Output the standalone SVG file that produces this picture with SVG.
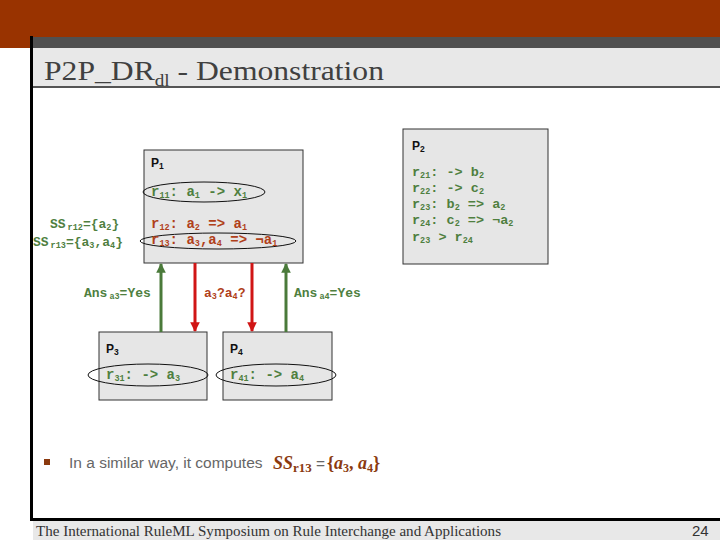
<svg xmlns="http://www.w3.org/2000/svg" width="720" height="540" viewBox="0 0 720 540">
<style>
.box{fill:#e6e6e6;stroke:#333;stroke-width:1}
.pl{font-family:"Liberation Sans",Arial,sans-serif;font-weight:bold;font-size:12px;fill:#111}
.mono{font-family:"Liberation Mono","Courier New",monospace;font-weight:bold;font-size:14px}
.p2{font-size:13.5px}
.lab{font-family:"Liberation Mono","Courier New",monospace;font-weight:bold;font-size:13px}
.g{fill:#4f7f3f}
.r{fill:#b0401a}
.sub{font-size:8.5px}
.ell{fill:none;stroke:#111;stroke-width:1}
.ga{stroke:#4a7a3a;stroke-width:3}
.ra{stroke:#d01515;stroke-width:3}
.bs{font-family:"Liberation Serif","Times New Roman",serif;font-weight:bold;fill:#8b3a0f}
</style>
<defs>
<marker id="ahg" viewBox="0 0 10 10" refX="9" refY="5" markerWidth="3.2" markerHeight="3.2" orient="auto"><path d="M0,0L10,5L0,10z" fill="#4a7a3a"/></marker>
<marker id="ahr" viewBox="0 0 10 10" refX="9" refY="5" markerWidth="3.2" markerHeight="3.2" orient="auto"><path d="M0,0L10,5L0,10z" fill="#d01515"/></marker>
</defs>
<rect width="720" height="540" fill="#fff"/>
<rect x="0" y="0" width="720" height="48" fill="#993300"/>
<rect x="30" y="37" width="690" height="11" fill="#505050"/>
<rect x="30" y="48" width="690" height="38" fill="#e8e8e8"/>
<rect x="30" y="86" width="690" height="2" fill="#555"/>
<rect x="30" y="36" width="3" height="484" fill="#000"/>
<rect x="30" y="518" width="690" height="3" fill="#000"/>
<rect x="33" y="521" width="687" height="19" fill="#e8e8e8"/>
<text transform="translate(44,80) scale(1.13,1)" font-family="Liberation Serif,'Times New Roman',serif" font-size="28" fill="#404040">P2P_DR<tspan font-size="17" dy="6">dl</tspan><tspan dy="-6"> - Demonstration</tspan></text>

<g id="P1">
<rect class="box" x="144" y="150" width="159" height="113"/>
<text class="pl" x="151" y="167">P<tspan class="sub" dy="2">1</tspan></text>
<ellipse class="ell" cx="204" cy="192" rx="61" ry="10"/>
<text class="mono g" x="151" y="196">r<tspan class="sub" dy="2">11</tspan><tspan dy="-2">: a</tspan><tspan class="sub" dy="2">1</tspan><tspan dy="-2"> -&gt; x</tspan><tspan class="sub" dy="2">1</tspan></text>
<text class="mono r" x="151" y="228">r<tspan class="sub" dy="2">12</tspan><tspan dy="-2">:  a</tspan><tspan class="sub" dy="2">2</tspan><tspan dy="-2"> =&gt; a</tspan><tspan class="sub" dy="2">1</tspan></text>
<ellipse class="ell" cx="218" cy="241" rx="78" ry="8"/>
<text class="mono r" x="151" y="244">r<tspan class="sub" dy="2">13</tspan><tspan dy="-2">:  a</tspan><tspan class="sub" dy="2">3</tspan><tspan dy="-2">,a</tspan><tspan class="sub" dy="2">4</tspan><tspan dy="-2"> =&gt; ¬a</tspan><tspan class="sub" dy="2">1</tspan></text>
</g>

<g id="SS">
<text class="lab g" x="50" y="228">SS<tspan class="sub" dx="2" dy="2">r12</tspan><tspan dy="-2">={a</tspan><tspan class="sub" dy="2">2</tspan><tspan dy="-2">}</tspan></text>
<text class="lab g" x="33" y="246">SS<tspan class="sub" dx="2" dy="2">r13</tspan><tspan dy="-2">={a</tspan><tspan class="sub" dy="2">3</tspan><tspan dy="-2">,a</tspan><tspan class="sub" dy="2">4</tspan><tspan dy="-2">}</tspan></text>
</g>

<g id="P2">
<rect class="box" x="403" y="129" width="145" height="135"/>
<text class="pl" x="412" y="150">P<tspan class="sub" dy="2">2</tspan></text>
<text class="mono p2 g" x="412" y="176">r<tspan class="sub" dy="2">21</tspan><tspan dy="-2">: -&gt; b</tspan><tspan class="sub" dy="2">2</tspan></text>
<text class="mono p2 g" x="412" y="192">r<tspan class="sub" dy="2">22</tspan><tspan dy="-2">: -&gt; c</tspan><tspan class="sub" dy="2">2</tspan></text>
<text class="mono p2 g" x="412" y="208">r<tspan class="sub" dy="2">23</tspan><tspan dy="-2">: b</tspan><tspan class="sub" dy="2">2</tspan><tspan dy="-2"> =&gt; a</tspan><tspan class="sub" dy="2">2</tspan></text>
<text class="mono p2 g" x="412" y="224">r<tspan class="sub" dy="2">24</tspan><tspan dy="-2">: c</tspan><tspan class="sub" dy="2">2</tspan><tspan dy="-2"> =&gt; ¬a</tspan><tspan class="sub" dy="2">2</tspan></text>
<text class="mono p2 g" x="412" y="241">r<tspan class="sub" dy="2">23</tspan><tspan dy="-2"> &gt; r</tspan><tspan class="sub" dy="2">24</tspan></text>
</g>

<g id="P3">
<rect class="box" x="99" y="332" width="108" height="68"/>
<text class="pl" x="106" y="353">P<tspan class="sub" dy="2">3</tspan></text>
<ellipse class="ell" cx="148" cy="375" rx="60" ry="11"/>
<text class="mono g" x="106" y="379">r<tspan class="sub" dy="2">31</tspan><tspan dy="-2">: -&gt; a</tspan><tspan class="sub" dy="2">3</tspan></text>
</g>

<g id="P4">
<rect class="box" x="223" y="332" width="109" height="68"/>
<text class="pl" x="230" y="353">P<tspan class="sub" dy="2">4</tspan></text>
<ellipse class="ell" cx="276" cy="375" rx="60" ry="11"/>
<text class="mono g" x="230" y="379">r<tspan class="sub" dy="2">41</tspan><tspan dy="-2">: -&gt; a</tspan><tspan class="sub" dy="2">4</tspan></text>
</g>

<g id="connectors">
<line class="ga" x1="161" y1="332" x2="161" y2="264" marker-end="url(#ahg)"/>
<line class="ra" x1="195" y1="263" x2="195" y2="331" marker-end="url(#ahr)"/>
<line class="ra" x1="252" y1="263" x2="252" y2="331" marker-end="url(#ahr)"/>
<line class="ga" x1="286" y1="332" x2="286" y2="264" marker-end="url(#ahg)"/>
<text class="lab g" x="84" y="297">Ans<tspan class="sub" dx="2" dy="2">a3</tspan><tspan dy="-2">=Yes</tspan></text>
<text class="lab r" x="204" y="297">a<tspan class="sub" dy="2">3</tspan><tspan dy="-2">?a</tspan><tspan class="sub" dy="2">4</tspan><tspan dy="-2">?</tspan></text>
<text class="lab g" x="294" y="297">Ans<tspan class="sub" dx="2" dy="2">a4</tspan><tspan dy="-2">=Yes</tspan></text>
</g>

<rect x="44" y="459" width="6" height="6" fill="#8b3a0f"/>
<text x="69" y="468" font-family="Liberation Sans,Arial,sans-serif" font-size="15.5" fill="#666">In a similar way, it computes</text>
<text class="bs" x="273" y="469" font-size="18" font-style="italic">SS</text>
<text class="bs" x="293" y="472" font-size="13">r13</text>
<text x="316" y="469" font-family="Liberation Sans,Arial,sans-serif" font-size="15.5" fill="#666">=</text>
<text class="bs" x="327" y="469" font-size="18">{<tspan font-style="italic">a</tspan><tspan font-size="12" dy="3">3</tspan><tspan dy="-3">, </tspan><tspan font-style="italic">a</tspan><tspan font-size="12" dy="3">4</tspan><tspan dy="-3">}</tspan></text>

<text x="36" y="536" textLength="465" lengthAdjust="spacingAndGlyphs" font-family="Liberation Serif,'Times New Roman',serif" font-size="14" fill="#333">The International RuleML Symposium on Rule Interchange and Applications</text>
<text x="692" y="536" font-family="Liberation Sans,Arial,sans-serif" font-size="15" fill="#333">24</text>
</svg>
